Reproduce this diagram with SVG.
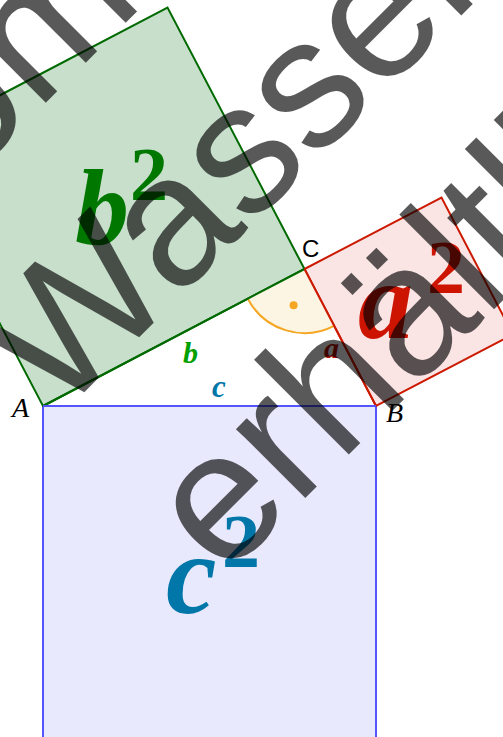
<svg xmlns="http://www.w3.org/2000/svg" width="503" height="737" viewBox="0 0 503 737">
<style>
.sq{stroke-width:2;stroke-linejoin:miter}
.big{font-family:"Liberation Serif","DejaVu Serif",serif;font-style:italic;font-weight:bold}
.sup{font-style:normal}
.vtx{font-family:"Liberation Serif","DejaVu Serif",serif;font-style:italic;font-size:28px;fill:#000}
.wm{font-family:"Liberation Sans","DejaVu Sans",sans-serif;font-size:185px;fill:#000;fill-opacity:0.65}
</style>
<rect width="503" height="737" fill="#fff"/>
<g id="square-c"><polygon class="sq" points="43,406 376,406 376,739 43,739" fill="#e9e9fd" stroke="#5555ff"/></g>
<g id="square-b"><polygon class="sq" points="43,406 304.5,269 167.5,7.5 -94,144.5" fill="#c8dfcc" stroke="#006a00"/></g>
<g id="square-a"><polygon class="sq" points="304.5,269 376,406 513,334.5 441.5,197.5" fill="#fbe4e4" stroke="#cc1a00"/></g>
<g id="right-angle">
<path d="M304.5,269 L247.8,298.7 A64,64 0 0 0 334.1,325.8 Z" fill="#fcf5e3" stroke="none"/>
<path d="M247.8,298.7 A64,64 0 0 0 334.1,325.8" fill="none" stroke="#f5a623" stroke-width="2"/>
<circle cx="293.6" cy="305.3" r="4" fill="#f5a623"/>
</g>
<g id="edges">
<line x1="43" y1="406" x2="304.5" y2="269" stroke="#006a00" stroke-width="2"/>
<line x1="304.5" y1="269" x2="376" y2="406" stroke="#cc1a00" stroke-width="2"/>
<line x1="43" y1="406" x2="376" y2="406" stroke="#5555ff" stroke-width="2"/>
</g>
<g id="labels">
<text class="big" x="75" y="244" font-size="108" fill="#007800">b<tspan class="sup" x="130" y="200" font-size="76">2</tspan></text>
<text class="big" x="358" y="338" font-size="110" fill="#cc1400">a<tspan class="sup" x="427" y="293" font-size="76">2</tspan></text>
<text class="big" x="166" y="613" font-size="114" fill="#0077a8">c<tspan class="sup" x="222" y="567" font-size="76">2</tspan></text>
<text class="big" x="183" y="363" font-size="30" fill="#00a000">b</text>
<text class="big" x="212" y="397" font-size="31" fill="#0077a8">c</text>
<text class="big" x="324" y="358" font-size="30" fill="#b01000">a</text>
<text class="vtx" x="12" y="417">A</text>
<text class="vtx" x="386" y="422">B</text>
<text x="302" y="257" font-family="Liberation Sans, Arial, sans-serif" font-size="24" fill="#000">C</text>
</g>
<g id="watermark" transform="rotate(-45)">
<text class="wm" x="-156" y="105">om</text>
<text class="wm" x="-256" y="337">Wasser</text>
<text class="wm" x="-252" y="568">erhältli</text>
</g>
</svg>
